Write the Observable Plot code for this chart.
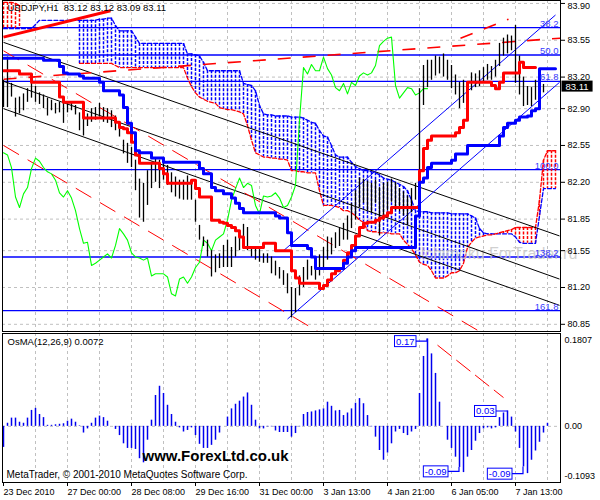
<!DOCTYPE html>
<html><head><meta charset="utf-8">
<script src="https://cdn.jsdelivr.net/npm/d3@7"></script>
<script src="https://cdn.jsdelivr.net/npm/@observablehq/plot@0.6"></script>
<style>
body{margin:0;background:#fff;}
#wrap{width:600px;height:500px;position:relative;overflow:hidden;background:#fff;}
svg{display:block}
</style></head><body><div id="wrap"></div>
<script>
// ---------- DATA (bar index i = one H1 step on the chart) ----------
const highs = [83.17,83.39,83.14,83.00,83.01,83.04,83.09,83.19,83.11,83.05,
83.03,83.00,82.98,82.95,82.96,82.95,82.96,82.95,82.93,82.86,
82.82,82.85,82.90,82.91,82.95,82.91,82.90,82.88,82.83,82.77,
82.60,82.57,82.53,82.41,82.23,82.19,82.31,82.39,82.43,82.41,
82.41,82.36,82.29,82.25,82.22,82.22,82.26,82.22,82.03,81.79,
81.68,81.65,81.55,81.51,81.52,81.60,81.65,81.58,81.68,81.74,
81.80,81.77,81.58,81.58,81.56,81.52,81.52,81.49,81.45,81.39,
81.36,81.33,81.20,81.19,81.31,81.39,81.46,81.40,81.43,81.51,
81.58,81.68,81.67,81.72,81.76,81.81,81.88,82.00,82.12,82.24,
82.23,82.21,82.19,82.22,82.15,82.19,82.20,82.23,82.20,82.14,
82.11,82.07,82.14,82.19,83.09,83.31,83.36,83.36,83.40,83.39,
83.42,83.36,83.31,83.22,83.15,83.17,83.12,83.24,83.23,83.26,
83.29,83.32,83.30,83.36,83.52,83.57,83.60,83.59,83.69,83.40,
83.20,83.11,83.10,83.17,83.09,83.13];
const lows = [82.91,82.91,83.01,82.82,82.85,82.88,82.96,83.00,82.96,82.94,
82.90,82.83,82.88,82.85,82.86,82.76,82.86,82.88,82.84,82.69,
82.64,82.73,82.77,82.79,82.82,82.77,82.76,82.72,82.69,82.63,
82.47,82.38,82.34,82.12,81.86,81.82,81.98,82.14,82.20,82.14,
82.22,82.17,82.10,82.06,82.04,82.03,82.03,82.03,81.82,81.65,
81.59,81.49,81.30,81.34,81.38,81.39,81.39,81.39,81.49,81.55,
81.58,81.55,81.49,81.46,81.44,81.43,81.43,81.33,81.31,81.28,
81.22,81.14,80.91,80.96,81.12,81.20,81.27,81.31,81.27,81.31,
81.39,81.46,81.51,81.57,81.59,81.65,81.65,81.76,81.84,81.96,
82.00,81.93,81.91,82.00,81.69,81.84,81.93,82.01,81.93,81.92,
81.88,81.79,81.91,82.03,82.12,82.93,83.10,83.17,83.21,83.23,
83.20,83.17,83.09,83.03,82.90,82.95,82.88,83.07,83.10,83.11,
83.14,83.17,83.17,83.20,83.30,83.40,83.42,83.45,83.14,83.03,
82.92,82.93,82.92,82.98,83.01,83.05];
const tenkan = [83.26,83.26,83.26,83.26,83.23,83.23,83.23,83.15,83.15,83.15,
83.15,83.15,83.15,83.15,83.01,82.96,82.96,82.96,82.96,82.96,
82.81,82.81,82.81,82.81,82.81,82.81,82.81,82.81,82.77,82.72,
82.71,82.67,82.58,82.46,82.38,82.38,82.38,82.38,82.38,82.33,
82.28,82.19,82.19,82.19,82.19,82.19,82.19,82.22,82.14,82.06,
82.06,82.06,81.84,81.84,81.82,81.81,81.79,81.77,81.74,81.68,
81.58,81.58,81.58,81.58,81.58,81.62,81.62,81.62,81.55,81.55,
81.55,81.55,81.36,81.29,81.24,81.24,81.24,81.24,81.24,81.19,
81.22,81.27,81.33,81.36,81.38,81.46,81.53,81.60,81.69,81.77,
81.81,81.82,81.82,81.84,81.86,81.88,81.91,81.96,81.96,81.96,
81.96,81.96,81.96,81.96,82.31,82.52,82.60,82.64,82.64,82.64,
82.64,82.64,82.64,82.67,82.72,82.79,83.15,83.15,83.15,83.15,
83.15,83.15,83.12,83.09,83.15,83.24,83.24,83.24,83.24,83.34,
83.29,83.29,83.29,83.29];
const kijun = [83.38,83.38,83.38,83.38,83.38,83.38,83.38,83.38,83.38,83.38,
83.36,83.36,83.36,83.36,83.30,83.24,83.23,83.23,83.23,83.21,
83.19,83.19,83.19,83.19,83.15,83.07,83.07,83.07,83.07,83.03,
82.91,82.76,82.67,82.50,82.48,82.48,82.48,82.43,82.43,82.43,
82.39,82.39,82.39,82.39,82.39,82.39,82.39,82.39,82.39,82.33,
82.28,82.28,82.15,82.12,82.12,82.09,82.09,82.05,82.00,81.95,
81.91,81.91,81.91,81.91,81.91,81.91,81.91,81.91,81.88,81.86,
81.86,81.72,81.60,81.60,81.60,81.60,81.57,81.49,81.38,81.38,
81.38,81.38,81.38,81.38,81.38,81.43,81.49,81.55,81.58,81.58,
81.58,81.58,81.58,81.58,81.58,81.58,81.58,81.58,81.58,81.58,
81.58,81.58,81.58,81.88,82.20,82.24,82.34,82.38,82.38,82.38,
82.38,82.38,82.41,82.47,82.47,82.47,82.55,82.55,82.55,82.55,
82.55,82.55,82.55,82.55,82.64,82.72,82.76,82.76,82.79,82.82,
82.82,82.83,82.88,82.90,83.28,83.28,83.28,83.28,83.28];
const chikou = [82.48,82.46,82.34,82.06,81.96,82.09,82.15,82.33,82.43,82.40,
82.34,82.30,82.28,82.22,82.10,82.06,82.12,82.05,81.93,81.76,
81.62,81.63,81.41,81.43,81.46,81.49,81.52,81.48,81.60,81.76,
81.71,81.65,81.53,81.49,81.48,81.46,81.48,81.31,81.33,81.33,
81.33,81.30,81.14,81.12,81.28,81.30,81.24,81.30,81.39,81.44,
81.65,81.62,81.55,81.65,81.68,81.71,81.84,82.03,82.14,82.24,
82.15,82.19,82.17,81.98,81.90,82.07,82.06,82.07,82.10,82.05,
81.96,81.98,82.06,82.17,82.79,83.29,83.23,83.32,83.26,83.26,
83.39,83.28,83.22,83.10,83.07,83.14,83.04,83.15,83.12,83.21,
83.24,83.22,83.24,83.31,83.50,83.54,83.57,83.58,83.12,83.00,
83.05,83.10,83.09,83.03,83.05,83.09,83.09];
// cloud edges: blue-dashed span and red-dashed span
const spanBlue = [83.66,83.66,83.66,83.66,83.66,83.66,83.66,83.66,83.70,83.74,
83.74,83.74,83.74,83.74,83.74,83.74,83.74,83.74,83.74,83.74,
83.74,83.74,83.74,83.74,83.75,83.75,83.76,83.76,83.69,83.64,
83.64,83.64,83.64,83.58,83.52,83.52,83.52,83.52,83.52,83.52,
83.52,83.52,83.52,83.52,83.52,83.52,83.42,83.42,83.41,83.40,
83.34,83.26,83.26,83.26,83.26,83.26,83.26,83.26,83.26,83.26,
83.14,83.13,83.12,83.07,82.93,82.85,82.84,82.84,82.83,82.83,
82.83,82.83,82.82,82.82,82.82,82.81,82.79,82.77,82.76,82.69,
82.64,82.63,82.55,82.46,82.44,82.44,82.44,82.39,82.35,82.33,
82.31,82.31,82.30,82.29,82.27,82.24,82.23,82.22,82.20,82.18,
82.16,82.12,82.03,81.93,81.92,81.92,81.92,81.91,81.91,81.91,
81.91,81.91,81.90,81.90,81.90,81.90,81.90,81.88,81.86,81.76,
81.72,81.71,81.71,81.71,81.71,81.71,81.71,81.71,81.68,81.63,
81.62,81.62,81.62,81.62,81.88,82.14,82.14,82.14,82.14];
const spanRed = [83.91,83.91,83.91,83.90,83.88,null,null,null,null,null,
null,null,null,null,null,null,null,null,null,83.33,
83.33,83.33,83.33,83.33,83.33,83.33,83.33,83.33,83.31,83.29,
83.29,83.29,83.29,83.29,83.29,83.29,83.29,83.29,83.29,83.29,
83.29,83.29,83.29,83.29,83.29,83.29,83.19,83.11,83.05,83.01,
82.99,82.97,82.96,82.95,82.91,82.90,82.89,82.89,82.88,82.87,
82.85,82.74,82.60,82.48,82.46,82.44,82.44,82.43,82.43,82.42,
82.42,82.41,82.31,82.31,82.30,82.30,82.29,82.29,82.29,82.12,
81.98,81.98,81.98,81.97,81.96,81.93,81.93,81.91,81.88,81.84,
81.82,81.74,81.73,81.73,81.72,81.72,81.72,81.71,81.71,81.71,
81.65,81.61,81.57,81.51,81.44,81.42,81.41,81.36,81.29,81.29,
81.29,81.31,81.34,81.34,81.36,81.43,81.58,81.63,81.67,81.68,
81.69,81.70,81.70,81.71,81.72,81.73,81.74,81.75,81.77,81.77,
81.77,81.77,81.77,81.77,82.03,82.41,82.50,82.50,82.50];
const osma = [-0.041,0.006,0.016,0.016,0.008,0.006,0.016,0.031,0.035,0.023,
0.017,0.002,0.002,0.003,0.004,0.005,0.010,0.014,0.008,0.001,
-0.013,-0.005,0.006,0.016,0.020,0.017,0.010,0.000,-0.006,-0.018,
-0.034,-0.043,-0.043,-0.045,-0.063,-0.071,-0.027,0.012,0.060,0.078,
0.064,0.041,0.023,0.008,-0.003,-0.011,-0.008,-0.003,-0.018,-0.035,
-0.043,-0.043,-0.037,-0.027,-0.013,0.000,0.018,0.034,0.043,0.049,
0.057,0.065,0.041,0.012,-0.005,-0.005,-0.001,-0.001,-0.009,-0.012,
-0.012,-0.012,-0.021,-0.014,-0.001,0.023,0.027,0.028,0.030,0.032,
0.034,0.047,0.039,0.030,0.031,0.021,0.026,0.034,0.045,0.054,
0.044,0.021,-0.001,-0.021,-0.047,-0.066,-0.052,-0.034,-0.011,-0.006,
-0.014,-0.018,-0.011,-0.006,0.064,0.136,0.170,0.141,0.103,0.047,
0.000,-0.027,-0.043,-0.060,-0.080,-0.090,-0.060,-0.047,-0.029,-0.014,
-0.005,-0.003,-0.005,-0.003,0.017,0.026,0.030,0.018,-0.011,-0.043,
-0.079,-0.092,-0.066,-0.048,-0.031,-0.013,0.006];

const priceTicks = [83.90,83.55,83.20,82.90,82.55,82.20,81.85,81.55,81.20,80.85];
const timeTickIdx = [0,16,32,48,64,80,96,112,128];
const timeLabels = ["23 Dec 2010","27 Dec 00:00","28 Dec 08:00","29 Dec 16:00","31 Dec 00:00","3 Jan 13:00","4 Jan 21:00","6 Jan 05:00","7 Jan 13:00"];
const gridIdx = [8,16,24,32,40,48,56,64,72,80,88,96,104,112,120,128,136];
const fibLevels = [83.67,83.41,83.16,82.32,81.49,80.98];
const fibLabels = ["38.2","50.0","61.8","100.0","138.2","161.8"];
const lastClose = 83.11;
const infoText = "USDJPY,H1  83.12 83.12 83.09 83.11";
const blackChannel = [{i1:0,p1:83.53,i2:139,p2:81.69},{i1:0,p1:83.16,i2:139,p2:81.28},{i1:0,p1:82.90,i2:139,p2:81.03}];
const blueChannel = [{i1:70,p1:81.55,i2:138,p2:83.79},{i1:71,p1:80.90,i2:139,p2:83.15}];
const redDashDown = [{i1:0,p1:82.55,i2:80,p2:80.75},{i1:0,p1:83.45,i2:120,p2:80.76}];
const redDashUp = [{i1:0,p1:83.18,i2:139.25,p2:83.57},{i1:114.25,p1:83.57,i2:126.25,p2:83.75}];
const redThick = [{i1:0,p1:83.58,i2:26.75,p2:83.83}];
const osmaDiv = [{i1:108.5,v1:0.158,i2:125,v2:0.056}];
const osmaNotes = [{i:106,v:0.165,label:"0.17"},{i:126,v:0.029,label:"0.03"},{i:114,v:-0.0885,label:"-0.09"},{i:130,v:-0.093,label:"-0.09"}];
const osmaScale = [{v:0.1807,t:"0.1807"},{v:0,t:"0.00"},{v:-0.1093,t:"-0.1093"}];
const osmaTitle = "OsMA(12,26,9) 0.0072";
const siteText = "www.ForexLtd.co.uk";
const copyText = "MetaTrader, \u00A9 2001-2010 MetaQuotes Software Corp.";
const watermark = "Ichimoku ForTrader.ru";

// ---------- BUILD ----------
const font = "'Liberation Sans', Arial, sans-serif";
const BLUE = "#0000ff", RED = "#ff0000", GRID = "#c0c0c0";
const xDomain = [-0.25, 139.25];
const idx = a => a.map((v, i) => ({i, v}));
const bars = highs.map((h, i) => ({i, high: h, low: lows[i]}));
const cloud = spanBlue.map((b, i) => ({i, b, a: spanRed[i]}));
const cloudOk = cloud.filter(d => d.a != null);
const L = {x1: "i1", y1: "p1", x2: "i2", y2: "p2"};

const main = Plot.plot({
  width: 600, height: 332, marginLeft: 2, marginRight: 40, marginTop: 0, marginBottom: 1,
  style: {fontFamily: font, fontSize: "9px", background: "white", overflow: "visible"},
  x: {domain: xDomain, axis: null},
  y: {domain: [80.7816, 83.928], label: null},
  marks: [
    Plot.ruleX(gridIdx, {x: d => d, stroke: GRID, strokeDasharray: "3,3"}),
    Plot.ruleY(priceTicks, {y: d => d, stroke: GRID, strokeDasharray: "3,3"}),
    Plot.ruleY([lastClose], {y: d => d, stroke: "#b4b4b4"}),
    Plot.ruleY(fibLevels, {y: d => d, stroke: BLUE, strokeWidth: 1.3}),
    Plot.ruleX(cloudOk.filter(d => d.b >= d.a), {x: "i", y1: "b", y2: "a", stroke: BLUE, strokeWidth: 1.5, strokeDasharray: "3,1.5"}),
    Plot.ruleX(cloudOk.filter(d => d.b < d.a), {x: "i", y1: "a", y2: "b", stroke: RED, strokeWidth: 1.5, strokeDasharray: "3,1.5"}),
    Plot.line(cloud, {x: "i", y: "b", stroke: BLUE, strokeDasharray: "4,2", strokeWidth: 1.3}),
    Plot.line(cloud, {x: "i", y: "a", stroke: RED, strokeDasharray: "4,2", strokeWidth: 1.3}),
    Plot.text([watermark], {frameAnchor: "top-left", dx: 418, dy: 253, text: d => d, textAnchor: "start", lineAnchor: "middle", fontSize: 16, fill: "#c8c8c8", fillOpacity: 0.85}),
    Plot.link(blackChannel, {...L, stroke: "black", strokeWidth: 1, clip: true}),
    Plot.link(redDashDown, {...L, stroke: RED, strokeWidth: 1, strokeDasharray: "18,10", clip: true}),
    Plot.link(redDashUp, {...L, stroke: RED, strokeWidth: 1.6, strokeDasharray: "13,12", clip: true}),
    Plot.link(blueChannel, {...L, stroke: BLUE, strokeWidth: 1, clip: true}),
    Plot.line(idx(chikou), {x: "i", y: "v", stroke: "#00ff00", strokeWidth: 1.1}),
    Plot.ruleX(bars, {x: "i", y1: "low", y2: "high", stroke: "black", strokeWidth: 1.3}),
    Plot.line(idx(tenkan), {x: "i", y: "v", stroke: RED, strokeWidth: 3, curve: "step-after"}),
    Plot.line(idx(kijun), {x: "i", y: "v", stroke: BLUE, strokeWidth: 3, curve: "step-after"}),
    Plot.link(redThick, {...L, stroke: RED, strokeWidth: 3}),
    Plot.text(fibLevels, {y: d => d, text: (d, i) => fibLabels[i], frameAnchor: "right", textAnchor: "end", lineAnchor: "bottom", dx: -2, dy: -1, fill: "#3a3aff", fontSize: 9.5}),
    Plot.frame({stroke: "black"}),
    Plot.axisY({anchor: "right", ticks: priceTicks, tickFormat: d => d.toFixed(2), tickSize: 4, tickPadding: 3, label: null, fontSize: 9}),
    Plot.text([lastClose], {y: d => d, text: d => d.toFixed(2), frameAnchor: "right", textAnchor: "start", dx: 5, fill: "white", fontSize: 9.5}),
    Plot.text([infoText], {frameAnchor: "top-left", dx: 5, dy: 4, lineAnchor: "top", textAnchor: "start", text: d => d, fill: "black", fontSize: 9.5})
  ]
});

const lower = Plot.plot({
  width: 600, height: 168, marginLeft: 2, marginRight: 40, marginTop: 1, marginBottom: 18,
  style: {fontFamily: font, fontSize: "9px", background: "white", overflow: "visible"},
  x: {domain: xDomain, label: null},
  y: {domain: [-0.1093, 0.1807], axis: null},
  marks: [
    Plot.ruleX(gridIdx, {x: d => d, stroke: GRID, strokeDasharray: "3,3"}),
    Plot.ruleY([0], {y: d => d, stroke: GRID, strokeDasharray: "3,3"}),
    Plot.ruleX(idx(osma), {x: "i", y1: 0, y2: "v", stroke: "#0000ee", strokeWidth: 1.5}),
    Plot.link(osmaDiv, {x1: "i1", y1: "v1", x2: "i2", y2: "v2", stroke: RED, strokeWidth: 1, strokeDasharray: "18,6"}),
    Plot.text(osmaNotes, {x: "i", y: "v", text: "label", dx: -13, textAnchor: "end", fill: BLUE, fontSize: 9.5}),
    Plot.frame({stroke: "black"}),
    Plot.axisX({ticks: timeTickIdx, tickFormat: d => timeLabels[timeTickIdx.indexOf(d)], tickSize: 4, tickPadding: 2, textAnchor: "start", label: null, fontSize: 9}),
    Plot.text([osmaScale[0]], {y: "v", text: "t", frameAnchor: "right", textAnchor: "start", dx: 4, dy: 7, fontSize: 9}),
    Plot.text([osmaScale[1]], {y: "v", text: "t", frameAnchor: "right", textAnchor: "start", dx: 4, fontSize: 9}),
    Plot.text([osmaScale[2]], {y: "v", text: "t", frameAnchor: "right", textAnchor: "start", dx: 4, dy: -6, fontSize: 9}),
    Plot.text([osmaTitle], {frameAnchor: "top-left", dx: 5, dy: 5, lineAnchor: "top", textAnchor: "start", text: d => d, fontSize: 9.5}),
    Plot.text([siteText], {frameAnchor: "bottom-left", dx: 140, dy: -26, lineAnchor: "middle", textAnchor: "start", text: d => d, fontSize: 15, fontWeight: "bold", fill: "black"}),
    Plot.text([copyText], {frameAnchor: "bottom-left", dx: 4, dy: -7.5, lineAnchor: "middle", textAnchor: "start", text: d => d, fontSize: 10})
  ]
});

const wrap = document.getElementById("wrap");
wrap.append(main, lower);

const NS = "http://www.w3.org/2000/svg";
function topG(svg, el) { let n = el; while (n.parentNode && n.parentNode !== svg) n = n.parentNode; return n; }
function boxText(svg, t, {fill, stroke, px, py}) {
  const sr = svg.getBoundingClientRect(), r = t.getBoundingClientRect();
  const rect = document.createElementNS(NS, "rect");
  const b = {x: r.left - sr.left - px, y: r.top - sr.top - py, w: r.width + 2 * px, h: r.height + 2 * py};
  rect.setAttribute("x", b.x); rect.setAttribute("y", b.y);
  rect.setAttribute("width", b.w); rect.setAttribute("height", b.h);
  rect.setAttribute("fill", fill); rect.setAttribute("stroke", stroke || "none");
  svg.insertBefore(rect, topG(svg, t));
  return b;
}
// keep the top price label inside the picture
[...main.querySelectorAll("text")].filter(t => t.textContent === priceTicks[0].toFixed(2)).forEach(t => {
  const tr = t.getAttribute("transform") || "";
  t.setAttribute("transform", tr + " translate(0,3)");
});
// price label box
{
  const cands = [...main.querySelectorAll("text")].filter(t => t.textContent === lastClose.toFixed(2));
  const t = cands[cands.length - 1];
  if (t) boxText(main, t, {fill: "black", px: 4, py: 0});
}
// OsMA annotation boxes and connectors
{
  const xs = lower.scale("x"), ys = lower.scale("y");
  const labs = [...lower.querySelectorAll("text")].filter(t => osmaNotes.some(n => n.label === t.textContent));
  labs.forEach((t, k) => {
    const n = osmaNotes[k]; if (!n) return;
    const b = boxText(lower, t, {fill: "white", stroke: BLUE, px: 1.5, py: 0});
    const cy = b.y + b.h / 2;
    const tx = xs.apply(n.i), ty = ys.apply(osma[n.i]);
    const p = document.createElementNS(NS, "path");
    p.setAttribute("d", `M${b.x + b.w},${cy}H${tx}V${ty}`);
    p.setAttribute("fill", "none"); p.setAttribute("stroke", BLUE); p.setAttribute("stroke-width", 1.2);
    lower.insertBefore(p, topG(lower, t));
  });
}
</script>
</body></html>
